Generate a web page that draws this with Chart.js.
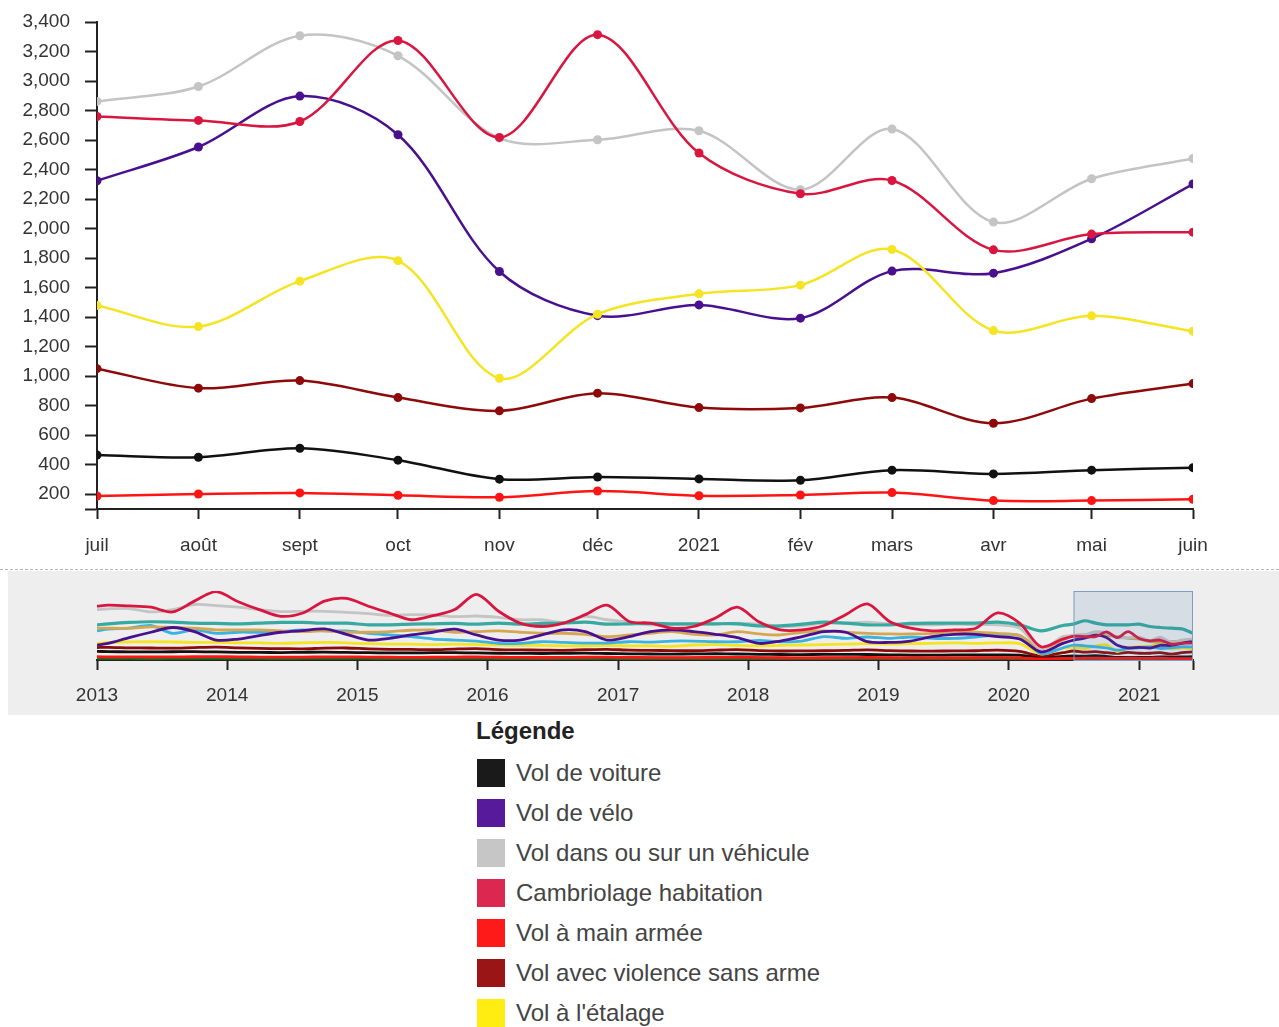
<!DOCTYPE html>
<html lang="fr">
<head>
<meta charset="utf-8">
<title>Vols et cambriolages</title>
<script src="https://cdn.jsdelivr.net/npm/chart.js@4.4.1/dist/chart.umd.min.js"></script>
<style>
    html, body { margin: 0; padding: 0; background: #fff; }
    body { width: 1279px; height: 1027px; position: relative; overflow: hidden; font-family: "Liberation Sans", Arial, sans-serif; }
    #main-wrap { position: absolute; left: 0; top: 0; width: 1279px; height: 565px; }
    #context-bg { position: absolute; left: 8px; top: 571px; width: 1271px; height: 144px; background: #eeeeee; }
    #context-line { position: absolute; left: 0; top: 569px; width: 1279px; border-top: 1px dashed #b8b8b8; }
    #context-wrap { position: absolute; left: 0; top: 570px; width: 1279px; height: 145px; }
    #legend { position: absolute; left: 476px; top: 716px; }
    #legend h3 { margin: 0 0 13px 0; font-size: 24px; line-height: 30px; font-weight: bold; color: #222; }
    .leg-row { display: flex; align-items: center; height: 28px; margin-bottom: 12px; }
    .leg-box { width: 28px; height: 28px; margin-left: 1px; margin-right: 11px; }
    .leg-text { font-size: 24px; line-height: 28px; color: #444; }
</style>
</head>
<body>
<div id="main-wrap"><canvas id="mainChart"></canvas></div>
<div id="context-bg"></div>
<div id="context-line"></div>
<div id="context-wrap"><canvas id="contextChart"></canvas></div>
<div id="legend"><h3>Légende</h3></div>

<script>
// --- Data: selected period (juil 2020 - juin 2021) ---
const months = ['2020-07', '2020-08', '2020-09', '2020-10', '2020-11', '2020-12',
                '2021-01', '2021-02', '2021-03', '2021-04', '2021-05', '2021-06'];
const monthLabels = ['juil', 'août', 'sept', 'oct', 'nov', 'déc', '2021', 'fév', 'mars', 'avr', 'mai', 'juin'];

const volVoiture     = [466, 451, 512, 431, 302, 317, 304, 295, 363, 338, 363, 380];
const volVelo        = [2324, 2553, 2898, 2636, 1709, 1410, 1483, 1393, 1712, 1698, 1931, 2302];
const volVehicule    = [2862, 2963, 3307, 3171, 2613, 2602, 2663, 2263, 2675, 2044, 2338, 2475];
const cambriolage    = [2760, 2733, 2726, 3275, 2618, 3314, 2512, 2236, 2326, 1856, 1963, 1976];
const volMainArmee   = [188, 202, 209, 193, 180, 222, 190, 195, 211, 157, 157, 166];
const volViolence    = [1051, 919, 970, 855, 765, 885, 787, 785, 855, 681, 848, 950];
const volEtalage     = [1479, 1336, 1644, 1783, 986, 1420, 1558, 1617, 1859, 1309, 1409, 1305];

const yTickValues = [100, 200, 400, 600, 800, 1000, 1200, 1400, 1600, 1800, 2000, 2200,
                     2400, 2600, 2800, 3000, 3200, 3400];

// --- Data: overview history (2013 - juin 2020, read every 2 months) ---
const histMonths = ['2013-01', '2013-02', '2013-04', '2013-06', '2013-08', '2013-10', '2013-12',
                    '2014-02', '2014-04', '2014-06', '2014-08', '2014-10', '2014-12',
                    '2015-02', '2015-04', '2015-06', '2015-08', '2015-10', '2015-12',
                    '2016-02', '2016-04', '2016-06', '2016-08', '2016-10', '2016-12',
                    '2017-02', '2017-04', '2017-06', '2017-08', '2017-10', '2017-12',
                    '2018-02', '2018-04', '2018-06', '2018-08', '2018-10', '2018-12',
                    '2019-02', '2019-04', '2019-06', '2019-08', '2019-10', '2019-12',
                    '2020-02', '2020-04', '2020-06'];

const cambriolageHist = [6276, 6394, 6315, 6157, 5605, 6868, 7973, 6789, 5881, 5092, 5486, 6868, 7184,
                         6276, 5486, 4697, 5171, 5881, 7657, 5684, 4302, 3907, 4302, 5289, 6394,
                         4500, 4302, 3710, 3907, 4894, 6157, 4420, 3513, 3513, 4026, 5289, 6552,
                         4500, 3710, 3394, 3513, 3710, 5486, 4302, 1539, 2447];
const volVehiculeHist = [5881, 5960, 6000, 5605, 5881, 6473, 6355, 6157, 5881, 5644, 5684, 5684, 5565,
                         5407, 5210, 5289, 5250, 5052, 5131, 4973, 4697, 4697, 4381, 5092, 4697,
                         4420, 4105, 4144, 4184, 4223, 4302, 4184, 3907, 3986, 4302, 4302, 4420,
                         4184, 4105, 4105, 4184, 4105, 4105, 3710, 1342, 2723];
const volVeloHist     = [1737, 1934, 2605, 3237, 3789, 3315, 2329, 2447, 2842, 3237, 3434, 3631, 3000,
                         2329, 2526, 2921, 3237, 3592, 2921, 2329, 2329, 2921, 3513, 3315, 2329,
                         2723, 3315, 3513, 3315, 3000, 2605, 1934, 2210, 2723, 3315, 3237, 2131,
                         2052, 2210, 2723, 3000, 3000, 2723, 2447, 947, 1934];
const volEtalageHist  = [1930, 2050, 2100, 2130, 2100, 2050, 2050, 2000, 2000, 1950, 2000, 2050, 2000,
                         1900, 1850, 1850, 1800, 1850, 1800, 1750, 1700, 1700, 1650, 1650, 1700,
                         1650, 1650, 1600, 1750, 1800, 1700, 1650, 1700, 1750, 1800, 1850, 1900,
                         1850, 1900, 1950, 2000, 1950, 2000, 1900, 700, 1350];
const volViolenceHist = [1450, 1480, 1420, 1400, 1380, 1450, 1500, 1420, 1350, 1330, 1300, 1380, 1400,
                         1300, 1250, 1230, 1200, 1280, 1320, 1220, 1180, 1150, 1130, 1200, 1250,
                         1150, 1120, 1100, 1080, 1150, 1200, 1100, 1050, 1060, 1080, 1120, 1180,
                         1100, 1050, 1040, 1060, 1080, 1150, 1000, 480, 850];
const volVoitureHist  = [1000, 980, 950, 940, 960, 980, 940, 900, 880, 870, 900, 920, 880,
                         850, 830, 820, 850, 860, 820, 790, 770, 760, 780, 800, 760,
                         720, 700, 690, 710, 730, 700, 660, 640, 630, 650, 660, 640,
                         600, 580, 570, 590, 600, 590, 560, 300, 420];
const volMainArmeeHist = [380, 370, 360, 350, 360, 380, 390, 360, 340, 330, 340, 360, 370,
                          340, 320, 310, 320, 340, 350, 320, 300, 290, 300, 320, 330,
                          300, 280, 270, 280, 300, 310, 280, 260, 250, 260, 280, 290,
                          260, 250, 240, 250, 260, 270, 240, 120, 180];

// other categories only shown in the overview (history + selected period)
const tealHist   = [4105, 4223, 4381, 4460, 4420, 4302, 4263, 4223, 4302, 4381, 4381, 4302, 4302,
                    4105, 4105, 4184, 4223, 4263, 4184, 4302, 4184, 4263, 4302, 4420, 4184,
                    4223, 4263, 4223, 4223, 4223, 4223, 3986, 3986, 4184, 4420, 4302, 4105,
                    4105, 4263, 4302, 4302, 4302, 4420, 4105, 3394, 4026];
const tealRecent = [4184, 4578, 4302, 4105, 4105, 4105, 4184, 3907, 3789, 3710, 3631, 3118];
const cyanHist   = [3394, 3592, 3710, 4026, 3118, 3513, 3118, 3237, 3237, 3315, 3513, 3394, 3394,
                    3118, 2921, 2723, 2447, 2329, 2210, 1934, 1934, 2131, 2052, 1973, 1973,
                    2131, 2092, 2210, 2210, 2131, 2131, 2289, 2131, 2210, 2723, 2526, 2684,
                    2526, 2684, 2526, 2526, 2684, 2921, 2842, 750, 1421];
const cyanRecent = [1737, 1658, 1539, 1421, 1145, 1342, 1421, 1539, 1342, 1421, 1539, 1539];
const tanHist    = [3710, 3710, 3710, 3868, 3789, 3710, 3513, 3513, 3513, 3394, 3315, 3394, 3237,
                    3237, 3315, 3473, 3513, 3237, 3315, 3394, 3237, 3118, 3118, 3000, 2723,
                    2921, 3118, 3315, 3000, 2921, 3315, 3039, 2921, 3237, 3394, 3237, 3118,
                    3039, 3039, 3118, 3315, 3237, 3118, 2842, 1342, 2329];
const tanRecent  = [2842, 2921, 2921, 2842, 2723, 2526, 2447, 2131, 2052, 2131, 2210, 2210];
const greenHist  = [220, 230, 220, 210, 220, 230, 240, 230, 220, 210, 220, 230, 240,
                    220, 210, 200, 210, 220, 230, 210, 200, 190, 200, 210, 220,
                    200, 190, 180, 190, 200, 210, 190, 180, 170, 180, 190, 200,
                    180, 170, 160, 170, 180, 190, 170, 80, 140];
const greenRecent = [150, 150, 140, 140, 130, 130, 140, 140, 150, 150, 150, 160];

const yearLabels = ['2013', '2014', '2015', '2016', '2017', '2018', '2019', '2020', '2021'];
const yearStarts = ['2013-01', '2014-01', '2015-01', '2016-01', '2017-01', '2018-01', '2019-01', '2020-01', '2021-01'];

// --- Series definitions ---
const series = [
    { label: 'Vol de voiture', color: '#111111', box: '#1a1a1a', main: volVoiture, hist: volVoitureHist },
    { label: 'Vol de vélo', color: '#48108e', box: '#561a9a', main: volVelo, hist: volVeloHist },
    { label: 'Vol dans ou sur un véhicule', color: '#c4c4c4', box: '#c6c6c6', main: volVehicule, hist: volVehiculeHist },
    { label: 'Cambriolage habitation', color: '#d8163f', box: '#dc2850', main: cambriolage, hist: cambriolageHist },
    { label: 'Vol à main armée', color: '#ff1414', box: '#ff1a1a', main: volMainArmee, hist: volMainArmeeHist },
    { label: 'Vol avec violence sans arme', color: '#8e0a0a', box: '#9a1616', main: volViolence, hist: volViolenceHist },
    { label: "Vol à l'étalage", color: '#f4e421', box: '#ffec10', main: volEtalage, hist: volEtalageHist }
];

const MAIN_BASE = months[0];
const CTX_BASE = '2013-01';

function dayIndex(ym, base) {
    const [y, m] = ym.split('-').map(Number);
    const [by, bm] = base.split('-').map(Number);
    return (Date.UTC(y, m - 1, 1) - Date.UTC(by, bm - 1, 1)) / 86400000;
}

const tickFont = { family: '"Liberation Sans", Arial, sans-serif', size: 19 };
const axisColor = '#222';

// --- Legend (HTML) ---
const legendDiv = document.getElementById('legend');
series.forEach(s => {
    const row = document.createElement('div');
    row.className = 'leg-row';
    row.innerHTML = `<div class="leg-box" style="background:${s.box}"></div><span class="leg-text">${s.label}</span>`;
    legendDiv.appendChild(row);
});

// --- Main chart ---
const mainDatasets = series.map((s, i) => ({
    label: s.label,
    data: months.map((mo, k) => ({ x: dayIndex(mo, MAIN_BASE), y: s.main[k] })),
    borderColor: s.color,
    backgroundColor: s.color,
    pointBackgroundColor: s.color,
    pointBorderColor: s.color,
    order: series.length - i,
    clip: 0
}));

new Chart(document.getElementById('mainChart'), {
    type: 'line',
    data: { datasets: mainDatasets },
    options: {
        responsive: true,
        maintainAspectRatio: false,
        animation: false,
        layout: { padding: { top: 22, right: 86, left: 0, bottom: 0 } },
        plugins: { legend: { display: false }, tooltip: { enabled: false } },
        elements: {
            line: { tension: 0.33, borderWidth: 2.5 },
            point: { radius: 4.5, borderWidth: 0, hoverRadius: 4.5 }
        },
        scales: {
            x: {
                type: 'linear',
                min: 0,
                max: dayIndex(months[months.length - 1], MAIN_BASE),
                afterBuildTicks: scale => { scale.ticks = months.map(mo => ({ value: dayIndex(mo, MAIN_BASE) })); },
                afterFit: scale => { scale.height = 56; scale.paddingLeft = 0; scale.paddingRight = 0; },
                grid: { drawOnChartArea: false, drawTicks: true, tickLength: 10, tickWidth: 2, tickColor: axisColor },
                border: { display: true, color: axisColor, width: 2 },
                ticks: {
                    font: tickFont, color: '#333', padding: 15, maxRotation: 0, autoSkip: false,
                    callback: (v, i) => monthLabels[i]
                }
            },
            y: {
                min: yTickValues[0],
                max: yTickValues[yTickValues.length - 1],
                afterBuildTicks: scale => { scale.ticks = yTickValues.map(v => ({ value: v })); },
                afterFit: scale => { scale.width = 97; scale.paddingTop = 0; scale.paddingBottom = 0; },
                grid: { drawOnChartArea: false, drawTicks: true, tickLength: 12, tickWidth: 2, tickColor: axisColor },
                border: { display: true, color: axisColor, width: 2 },
                ticks: {
                    font: tickFont, color: '#333', padding: 15, autoSkip: false,
                    callback: v => v === yTickValues[0] ? '' : v.toLocaleString('en-US')
                }
            }
        }
    }
});

// --- Overview (context) chart ---
const allMonths = histMonths.concat(months);
const toPoints = vals => allMonths.map((mo, k) => ({ x: dayIndex(mo, CTX_BASE), y: vals[k] }));

const extra = [
    { color: '#1d6b1d', vals: greenHist.concat(greenRecent), width: 3.5 },
    { color: '#3ab4de', vals: cyanHist.concat(cyanRecent) },
    { color: '#d4a853', vals: tanHist.concat(tanRecent) },
    { color: '#36a9a0', vals: tealHist.concat(tealRecent), width: 3.2 }
];

// draw order (bottom first): green, voiture, main armée, violence, étalage, cyan, tan, vélo, véhicule, teal, cambriolage
const ctxOrder = [
    extra[0], series[0], series[4], series[5], series[6], extra[1], extra[2], series[1], series[2], extra[3], series[3]
];
const ctxDatasets = ctxOrder.map((s, i) => ({
    data: toPoints(s.vals || s.hist.concat(s.main)),
    borderColor: s.color,
    borderWidth: s.width || 2.8,
    pointRadius: 0,
    tension: 0.3,
    order: ctxOrder.length - i,
    clip: 0
}));

const brushStart = '2020-07';
const brushEnd = '2021-06';

const brushPlugin = {
    id: 'brush',
    afterDatasetsDraw(chart) {
        const { ctx, chartArea, scales } = chart;
        const x1 = scales.x.getPixelForValue(dayIndex(brushStart, CTX_BASE));
        const x2 = scales.x.getPixelForValue(dayIndex(brushEnd, CTX_BASE));
        ctx.save();
        ctx.fillStyle = 'rgba(70, 120, 180, 0.14)';
        ctx.fillRect(x1, chartArea.top, x2 - x1, chartArea.bottom - chartArea.top);
        ctx.strokeStyle = '#7f9dc0';
        ctx.lineWidth = 1;
        ctx.strokeRect(x1 + 0.5, chartArea.top + 0.5, x2 - x1 - 1, chartArea.bottom - chartArea.top);
        ctx.restore();
    }
};

const ctxEnd = dayIndex('2021-06', CTX_BASE);

new Chart(document.getElementById('contextChart'), {
    type: 'line',
    data: { datasets: ctxDatasets },
    plugins: [brushPlugin],
    options: {
        responsive: true,
        maintainAspectRatio: false,
        animation: false,
        layout: { padding: { top: 21, right: 86, left: 97, bottom: 0 } },
        plugins: { legend: { display: false }, tooltip: { enabled: false } },
        scales: {
            x: {
                type: 'linear',
                min: 0,
                max: ctxEnd,
                afterBuildTicks: scale => {
                    scale.ticks = yearStarts.map(ys => ({ value: dayIndex(ys, CTX_BASE) })).concat([{ value: ctxEnd }]);
                },
                afterFit: scale => { scale.height = 55; },
                grid: { drawOnChartArea: false, drawTicks: true, tickLength: 10, tickWidth: 2, tickColor: axisColor },
                border: { display: true, color: axisColor, width: 2 },
                ticks: {
                    font: tickFont, color: '#333', padding: 14, maxRotation: 0, autoSkip: false,
                    callback: (v, i) => i < yearLabels.length ? yearLabels[i] : ''
                }
            },
            y: { display: false, min: 0, max: 8050 }
        }
    }
});
</script>
</body>
</html>
